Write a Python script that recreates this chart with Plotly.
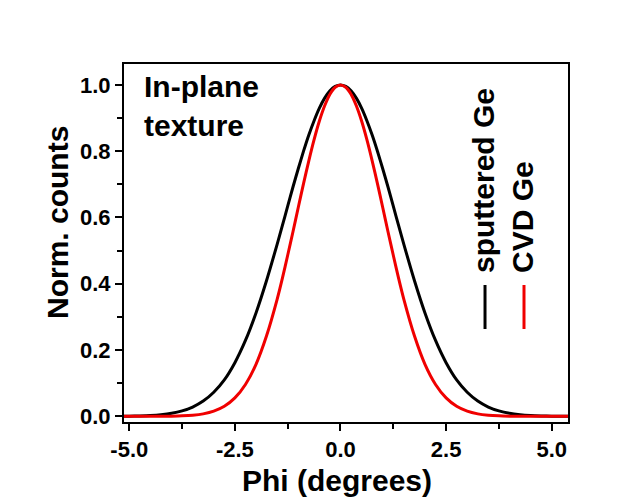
import plotly.graph_objects as go

# Data
phi = [-5.5, -5.25, -5.0, -4.75, -4.5, -4.25, -4.0, -3.75, -3.5, -3.25, -3.0, -2.75,
       -2.5, -2.25, -2.0, -1.75, -1.5, -1.375, -1.25, -1.125, -1.0, -0.875, -0.75, -0.625,
       -0.5, -0.375, -0.25, -0.125, 0.0,
       0.125, 0.25, 0.375, 0.5, 0.625, 0.75, 0.875, 1.0, 1.125, 1.25, 1.375, 1.5,
       1.75, 2.0, 2.25, 2.5, 2.75, 3.0, 3.25,
       3.5, 3.75, 4.0, 4.25, 4.5, 4.75, 5.0, 5.25, 5.5]
sputtered = [0.0001, 0.0003, 0.0007, 0.0014, 0.0027, 0.0052, 0.0094, 0.0166, 0.0282, 0.0461,
             0.0727, 0.110, 0.162, 0.229, 0.312, 0.410, 0.519, 0.576, 0.634, 0.692, 0.747,
             0.800, 0.849, 0.892, 0.930, 0.960, 0.982, 0.9955, 1.0,
             0.9955, 0.982, 0.960, 0.930, 0.892, 0.849, 0.800, 0.747, 0.692, 0.634, 0.576,
             0.519, 0.410, 0.312, 0.229, 0.162, 0.110,
             0.0727, 0.0461, 0.0282, 0.0166, 0.0094, 0.0052, 0.0027, 0.0014, 0.0007, 0.0003, 0.0001]
cvd = [0.0, 0.0, 0.0, 0.0, 0.0001, 0.0002, 0.0006, 0.0015, 0.0035, 0.0076,
       0.0156, 0.0303, 0.0556, 0.0963, 0.157, 0.243, 0.353, 0.417, 0.486, 0.557, 0.630,
       0.702, 0.771, 0.835, 0.891, 0.937, 0.972, 0.993, 1.0,
       0.993, 0.972, 0.937, 0.891, 0.835, 0.771, 0.702, 0.630, 0.557, 0.486, 0.417,
       0.353, 0.243, 0.157, 0.0963, 0.0556, 0.0303,
       0.0156, 0.0076, 0.0035, 0.0015, 0.0006, 0.0002, 0.0001, 0.0, 0.0, 0.0, 0.0]

x_tick_vals = [-5.0, -2.5, 0.0, 2.5, 5.0]
x_tick_text = ["-5.0", "-2.5", "0.0", "2.5", "5.0"]
y_tick_vals = [0.0, 0.2, 0.4, 0.6, 0.8, 1.0]
y_tick_text = ["0.0", "0.2", "0.4", "0.6", "0.8", "1.0"]

series_names = ["sputtered Ge", "CVD Ge"]
series_colors = ["#000000", "#f00000"]

FONT = "Liberation Sans, Arial, sans-serif"

fig = go.Figure()
for name, ys, col in zip(series_names, [sputtered, cvd], series_colors):
    fig.add_trace(go.Scatter(x=phi, y=ys, mode="lines", name=name,
                             line=dict(color=col, width=3, shape="spline", smoothing=0.8),
                             showlegend=False))

axis_common = dict(showline=True, linecolor="black", linewidth=2, mirror=True,
                   ticks="outside", ticklen=7, tickwidth=2, tickcolor="black",
                   showgrid=False, zeroline=False,
                   tickfont=dict(family=FONT, size=22, color="black", weight="bold"))

fig.update_xaxes(range=[-5.125, 5.386], tickmode="array", tickvals=x_tick_vals,
                 ticktext=x_tick_text,
                 minor=dict(dtick=1.25, tick0=0, ticks="outside", ticklen=5,
                            tickwidth=2, tickcolor="black"),
                 **axis_common)
fig.update_yaxes(range=[-0.017, 1.063], tickmode="array", tickvals=y_tick_vals,
                 ticktext=y_tick_text,
                 minor=dict(dtick=0.1, tick0=0, ticks="outside", ticklen=5,
                            tickwidth=2, tickcolor="black"),
                 **axis_common)

annots = [
    dict(text="In-plane<br>texture", x=0.04, y=0.99, xanchor="left", yanchor="top",
         align="left", font=dict(family=FONT, size=30, color="black", weight="bold")),
    dict(text="Norm. counts", x=-0.15, y=0.557, textangle=-90, xanchor="center",
         yanchor="middle", font=dict(family=FONT, size=30, color="black", weight="bold")),
    dict(text="Phi (degrees)", x=0.479, y=-0.163, xanchor="center", yanchor="middle",
         font=dict(family=FONT, size=30, color="black", weight="bold")),
]
# Vertical legend
leg_x_text = [0.8097, 0.8964]
leg_x_line = [0.8131, 0.9009]
for name, col, xt, xl in zip(series_names, series_colors, leg_x_text, leg_x_line):
    annots.append(dict(text=name, x=xt, y=0.4106, textangle=-90, xanchor="center",
                       yanchor="bottom", font=dict(family=FONT, size=30, color="black",
                                                   weight="bold")))
    fig.add_shape(type="line", xref="paper", yref="paper", x0=xl, x1=xl,
                  y0=0.2598, y1=0.3827, line=dict(color=col, width=3))

for a in annots:
    a.update(xref="paper", yref="paper", showarrow=False)
    fig.add_annotation(**a)

# page body adds an 8 px offset, so the figure is shrunk by 8 px on the top/left
fig.update_layout(width=636, height=491, margin=dict(l=116, r=76, t=56, b=77),
                  paper_bgcolor="white", plot_bgcolor="white", showlegend=False)

fig.write_html("out.html")
